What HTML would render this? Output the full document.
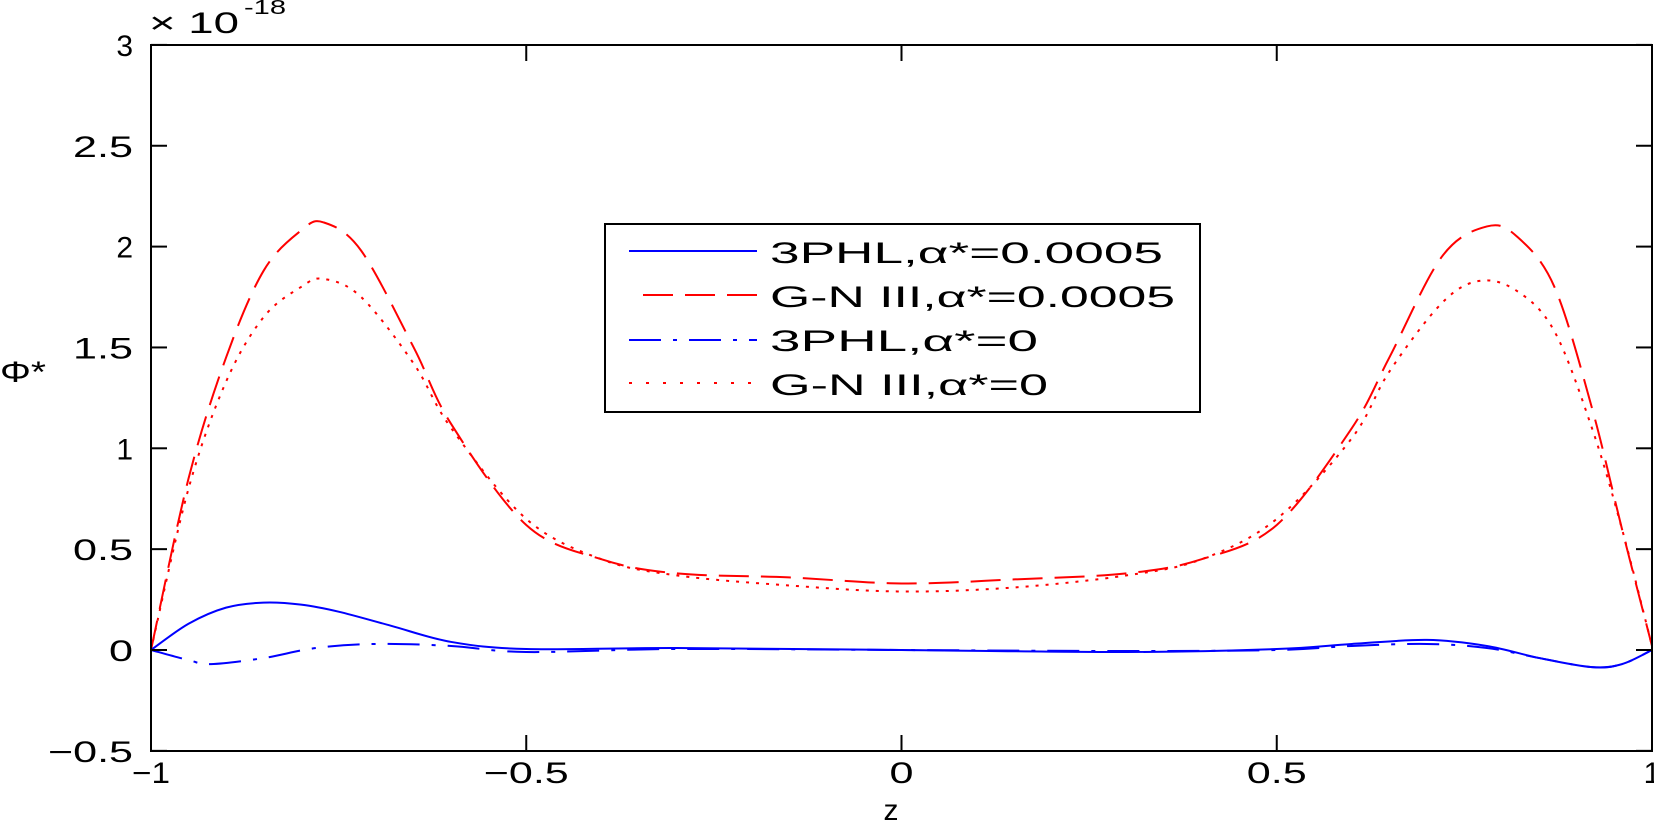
<!DOCTYPE html>
<html><head><meta charset="utf-8"><style>
body{margin:0;background:#fff}
svg{display:block;font-family:"Liberation Sans",sans-serif}
</style></head><body>
<svg id="s" width="1654" height="823" viewBox="0 0 1654 823">
<rect width="1654" height="823" fill="#fff"/>
<g id="curves" fill="none"></g>
<rect x="151" y="45" width="1501" height="706" fill="none" stroke="#000" stroke-width="2"/>
<g id="ticks" stroke="#000" stroke-width="2"></g>
<g id="labels" font-size="30" fill="#000"></g>
<text x="149" y="33" font-size="30" textLength="90" lengthAdjust="spacingAndGlyphs">× 10</text>
<text x="244" y="14" font-size="20" textLength="42" lengthAdjust="spacingAndGlyphs">-18</text>
<text x="891" y="820" font-size="30" text-anchor="middle">z</text>
<text x="0" y="382" font-size="30" textLength="46" lengthAdjust="spacingAndGlyphs">Φ*</text>
<rect x="605" y="224" width="595" height="188" fill="#fff" stroke="#000" stroke-width="2"/>
<g font-size="30">
<line x1="629" y1="251" x2="757" y2="251" stroke="#0000ff" stroke-width="2"/>
<text x="770" y="263" textLength="393" lengthAdjust="spacingAndGlyphs">3PHL,α*=0.0005</text>
<line x1="643" y1="295" x2="757" y2="295" stroke="#ff0000" stroke-width="2" stroke-dasharray="30,12"/>
<text x="770" y="307" textLength="405" lengthAdjust="spacingAndGlyphs">G-N III,α*=0.0005</text>
<line x1="629" y1="340" x2="757" y2="340" stroke="#0000ff" stroke-width="2" stroke-dasharray="32,12,4,12"/>
<text x="770" y="351" textLength="268" lengthAdjust="spacingAndGlyphs">3PHL,α*=0</text>
<line x1="629" y1="383" x2="757" y2="383" stroke="#ff0000" stroke-width="2" stroke-dasharray="3,14"/>
<text x="770" y="395" textLength="278" lengthAdjust="spacingAndGlyphs">G-N III,α*=0</text>
</g>
</svg>
<script>
const X=z=>151+(z+1)/2*1501, Y=v=>650-v*201.7;
const ns="http://www.w3.org/2000/svg";
function el(p,t,a){const e=document.createElementNS(ns,t);for(const k in a)e.setAttribute(k,a[k]);p.appendChild(e);return e}
const tk=document.getElementById('ticks'),lb=document.getElementById('labels');
function lab(s,x,y,anchor){const a={x:x,y:y,'text-anchor':anchor};
 const len=s=='0'?24:(s.length==1?0:(s.length==3?60:(s.length==4?85:38)));if(len){a.textLength=len;a.lengthAdjust='spacingAndGlyphs';}
 const t=el(lb,'text',a);t.textContent=s;}
[-1,-0.5,0,0.5,1].forEach(z=>{const x=X(z);el(tk,'line',{x1:x,y1:751,x2:x,y2:735});el(tk,'line',{x1:x,y1:45,x2:x,y2:61});
 const s=z==0?'0':(z<0?'−':'')+Math.abs(z);lab(s,x,783,'middle');});
[-0.5,0,0.5,1,1.5,2,2.5,3].forEach(v=>{const y=Y(v);el(tk,'line',{x1:151,y1:y,x2:167,y2:y});el(tk,'line',{x1:1652,y1:y,x2:1636,y2:y});
 const s=v==0?'0':(v<0?'−':'')+Math.abs(v);lab(s,133,y+11,'end');});
function cr(pts){let d='M'+X(pts[0][0])+','+Y(pts[0][1]);
 for(let i=0;i<pts.length-1;i++){const p0=pts[Math.max(0,i-1)],p1=pts[i],p2=pts[i+1],p3=pts[Math.min(pts.length-1,i+2)];
  const c1=[p1[0]+(p2[0]-p0[0])/6,p1[1]+(p2[1]-p0[1])/6],c2=[p2[0]-(p3[0]-p1[0])/6,p2[1]-(p3[1]-p1[1])/6];
  d+=' C'+X(c1[0])+','+Y(c1[1])+' '+X(c2[0])+','+Y(c2[1])+' '+X(p2[0])+','+Y(p2[1]);}return d}
const g=document.getElementById('curves');
const red=[[-1,0],[-0.95,0.85],[-0.9,1.45],[-0.85,1.88],[-0.8,2.08],[-0.77,2.12],[-0.72,1.98],[-0.65,1.5],[-0.6,1.12],[-0.5,0.62],[-0.4,0.45],[-0.3,0.38],[-0.15,0.36],[0,0.33],[0.15,0.35],[0.3,0.38],[0.4,0.45],[0.5,0.62],[0.6,1.1],[0.65,1.45],[0.72,1.95],[0.78,2.1],[0.82,2.05],[0.87,1.8],[0.92,1.2],[0.96,0.6],[1,0.02]];
const dot=[[-1,0],[-0.95,0.8],[-0.9,1.33],[-0.85,1.65],[-0.8,1.8],[-0.77,1.84],[-0.72,1.75],[-0.65,1.42],[-0.6,1.1],[-0.5,0.65],[-0.4,0.45],[-0.3,0.37],[-0.15,0.32],[0,0.29],[0.15,0.31],[0.3,0.37],[0.4,0.45],[0.5,0.65],[0.6,1.05],[0.65,1.38],[0.72,1.72],[0.77,1.83],[0.82,1.78],[0.87,1.58],[0.92,1.1],[0.96,0.6],[1,0.02]];
const b1=[[-1,0],[-0.95,0.13],[-0.9,0.21],[-0.85,0.235],[-0.8,0.225],[-0.75,0.19],[-0.68,0.12],[-0.6,0.04],[-0.5,0.005],[-0.3,0.01],[0,0],[0.3,-0.01],[0.5,0.005],[0.6,0.03],[0.7,0.05],[0.78,0.02],[0.85,-0.04],[0.92,-0.085],[0.96,-0.07],[1,0]];
const b2=[[-1,0],[-0.95,-0.05],[-0.92,-0.07],[-0.85,-0.04],[-0.78,0.01],[-0.7,0.03],[-0.6,0.02],[-0.5,-0.01],[-0.3,0.005],[0,0],[0.3,-0.005],[0.5,0.0],[0.6,0.02],[0.7,0.03],[0.78,0.01],[0.85,-0.04],[0.92,-0.085],[0.96,-0.07],[1,0]];
el(g,'path',{d:cr(dot),stroke:'#ff0000','stroke-width':2,'stroke-dasharray':'3,7'});
el(g,'path',{d:cr(red),stroke:'#ff0000','stroke-width':2,'stroke-dasharray':'30,12'});
el(g,'path',{d:cr(b2),stroke:'#0000ff','stroke-width':2,'stroke-dasharray':'32,12,4,12'});
el(g,'path',{d:cr(b1),stroke:'#0000ff','stroke-width':2});
</script>
</body></html>
